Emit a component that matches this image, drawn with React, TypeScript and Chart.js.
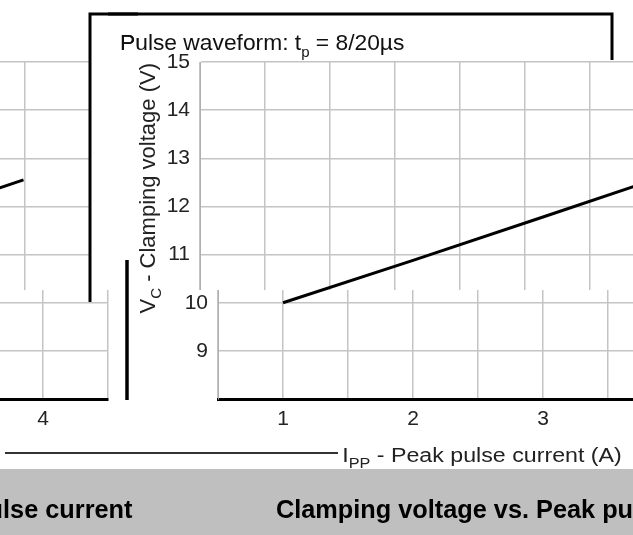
import React, { useEffect, useRef } from 'react';
import { Chart, registerables } from 'chart.js';

Chart.register(...registerables);

// ---- data ----
const peakCurrent = [1, 2, 3, 3.85];
const clampVoltage = [10, 10.88, 11.78, 12.55];
const yTickValues = [9, 10, 11, 12, 13, 14, 15];
const xTickValues = [1, 2, 3, 4];
const chartTitle = 'Clamping voltage vs. Peak pulse current';
const xTitleMain = 'I';
const xTitleSub = 'PP';
const xTitleRest = ' - Peak pulse current (A)';
const yTitleMain = 'V';
const yTitleSub = 'C';
const yTitleRest = ' - Clamping voltage (V)';
const noteMain = 'Pulse waveform: t';
const noteSub = 'p';
const noteRest = ' = 8/20µs';

const CW = 660;
const CH = 535;
const SHIFT_A = 108;
const UPPER_SHIFT = 18;
const PERIOD = 630;
const SPLIT_Y = 290;
const FONT = '"Liberation Sans", Arial, sans-serif';

function drawSubText(ctx: any, parts: [string, number, number][], x: number, y: number) {
  let cx = x;
  for (const [t, size, dy] of parts) {
    ctx.font = size + 'px ' + FONT;
    ctx.fillText(t, cx, y + dy);
    cx += ctx.measureText(t).width;
  }
  return cx - x;
}

function measureSubText(ctx: any, parts: [string, number, number][]) {
  let w = 0;
  for (const [t, size] of parts) {
    ctx.font = size + 'px ' + FONT;
    w += ctx.measureText(t).width;
  }
  return w;
}

const overlayPlugin = {
  id: 'overlay',
  afterDraw(chart: any) {
    const ctx = chart.ctx;
    for (const off of [-SHIFT_A, PERIOD - SHIFT_A]) {
      ctx.save();
      ctx.translate(off, 0);
      // frame fragments
      ctx.strokeStyle = '#000';
      ctx.lineWidth = 3;
      ctx.beginPath();
      ctx.moveTo(90, 302);
      ctx.lineTo(90, 14);
      ctx.lineTo(612, 14);
      ctx.lineTo(612, 60);
      ctx.stroke();
      ctx.beginPath();
      ctx.moveTo(127, 260);
      ctx.lineTo(127, 400);
      ctx.stroke();
      ctx.strokeStyle = '#333';
      ctx.lineWidth = 2;
      ctx.beginPath();
      ctx.moveTo(5, 453);
      ctx.lineTo(338, 453);
      ctx.stroke();
      ctx.fillStyle = '#111';
      ctx.textBaseline = 'alphabetic';
      ctx.textAlign = 'left';
      // note text
      drawSubText(ctx, [[noteMain, 22.8, 0], [noteSub, 15, 7], [noteRest, 22.8, 0]], 120, 50);
      // x axis title (slightly stretched, as in the source image)
      const xParts: [string, number, number][] = [[xTitleMain, 20, 0], [xTitleSub, 14, 6], [xTitleRest, 20, 0]];
      const xw = measureSubText(ctx, xParts);
      const stretch = 1.16;
      ctx.fillStyle = '#222';
      ctx.save();
      ctx.translate(482 - (xw * stretch) / 2, 462);
      ctx.scale(stretch, 1);
      drawSubText(ctx, xParts, 0, 0);
      ctx.restore();
      // y axis title (rotated)
      const yParts: [string, number, number][] = [[yTitleMain, 22, 0], [yTitleSub, 15, 6], [yTitleRest, 22, 0]];
      const yw = measureSubText(ctx, yParts);
      ctx.save();
      ctx.translate(155, 63 + yw);
      ctx.rotate(-Math.PI / 2);
      drawSubText(ctx, yParts, 0, 0);
      ctx.restore();
      // chart title
      ctx.font = 'bold 25.3px ' + FONT;
      ctx.fillStyle = '#000';
      ctx.fillText(chartTitle, 276, 518);
      ctx.restore();
    }
  },
};

function makeConfig(mode: 'grid' | 'overlay'): any {
  const overlay = mode === 'overlay';
  return {
    type: 'line',
    data: {
      datasets: [
        {
          data: peakCurrent.map((x, i) => ({ x, y: clampVoltage[i] })),
          borderColor: '#000',
          borderWidth: 3,
          pointRadius: 0,
          tension: 0,
          fill: false,
          hidden: !overlay,
        },
      ],
    },
    options: {
      animation: false,
      responsive: false,
      devicePixelRatio: 1,
      layout: {
        padding: overlay
          ? { left: 110, right: 30, top: 62, bottom: 136 }
          : { left: 0, right: 30, top: 62, bottom: 0 },
      },
      plugins: {
        legend: { display: false },
        tooltip: { enabled: false },
        title: { display: false },
      },
      scales: {
        x: {
          type: 'linear',
          display: !overlay,
          min: 0.5,
          max: 4.5,
          afterFit: (s: any) => {
            if (!overlay) s.height = 136;
          },
          grid: { color: '#c4c4c4', lineWidth: 1.5, drawTicks: false },
          border: { display: true, color: '#000', width: 3 },
          ticks: {
            stepSize: 0.5,
            autoSkip: false,
            maxRotation: 0,
            padding: 8,
            color: '#222',
            font: { family: FONT, size: 21 },
            callback: (v: number) => (xTickValues.includes(v) ? String(v) : ''),
          },
        },
        y: {
          type: 'linear',
          display: !overlay,
          min: 8,
          max: 15,
          afterFit: (s: any) => {
            if (!overlay) s.width = 110;
          },
          grid: { color: '#c4c4c4', lineWidth: 1.5, drawTicks: false },
          border: { display: true, color: '#b0b0b0', width: 1 },
          ticks: {
            stepSize: 1,
            autoSkip: false,
            padding: 10,
            color: '#222',
            font: { family: FONT, size: 21 },
            callback: (v: number) => (yTickValues.includes(v) ? String(v) : ''),
          },
        },
      },
    },
    plugins: overlay ? [overlayPlugin] : [],
  };
}

function Layer(props: { top: number; height: number; shift: number; mode: 'grid' | 'overlay' }) {
  const refA = useRef<HTMLCanvasElement>(null);
  const refB = useRef<HTMLCanvasElement>(null);
  useEffect(() => {
    const charts: Chart[] = [];
    if (refB.current) charts.push(new Chart(refB.current, makeConfig(props.mode)));
    if (refA.current) charts.push(new Chart(refA.current, makeConfig(props.mode)));
    return () => charts.forEach((c) => c.destroy());
  }, []);
  const cs = (left: number): any => ({
    position: 'absolute',
    left,
    top: -props.top,
    width: CW,
    height: CH,
  });
  return (
    <div
      style={{
        position: 'absolute',
        left: 0,
        top: props.top,
        width: 633,
        height: props.height,
        overflow: 'hidden',
      }}
    >
      <canvas ref={refB} width={CW} height={CH} style={cs(props.shift - PERIOD)} />
      <canvas ref={refA} width={CW} height={CH} style={cs(props.shift)} />
    </div>
  );
}

export default function App() {
  return (
    <div
      style={{
        position: 'fixed',
        left: 0,
        top: 0,
        width: 633,
        height: 535,
        overflow: 'hidden',
        background: '#fff',
      }}
    >
      <div style={{ position: 'absolute', left: 0, top: 469, width: 633, height: 66, background: '#bfbfbf' }} />
      <Layer top={SPLIT_Y} height={CH - SPLIT_Y} shift={SHIFT_A} mode="grid" />
      <Layer top={0} height={SPLIT_Y} shift={SHIFT_A - UPPER_SHIFT} mode="grid" />
      <Layer top={0} height={CH} shift={SHIFT_A} mode="overlay" />
    </div>
  );
}
